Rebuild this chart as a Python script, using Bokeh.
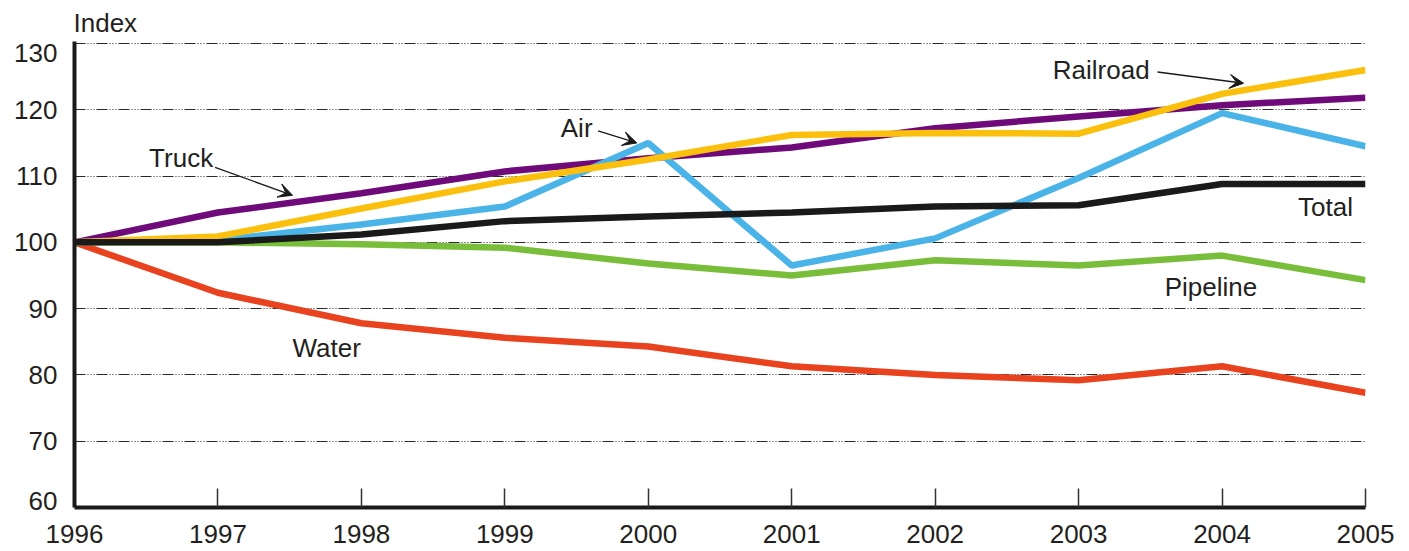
from bokeh.plotting import figure
from bokeh.models import Range1d, FixedTicker, Label, Arrow, VeeHead, Title
from bokeh.embed import file_html
from bokeh.resources import INLINE

years = [1996, 1997, 1998, 1999, 2000, 2001, 2002, 2003, 2004, 2005]
truck = [100, 104.5, 107.4, 110.7, 112.7, 114.3, 117.2, 119.0, 120.7, 121.8]
railroad = [100, 100.9, 105.1, 109.2, 112.5, 116.2, 116.5, 116.4, 122.4, 126.0]
air = [100, 100.3, 102.7, 105.4, 115.0, 96.5, 100.6, 109.7, 119.5, 114.5]
total = [100, 100, 101.2, 103.2, 103.9, 104.5, 105.4, 105.6, 108.8, 108.8]
pipeline = [100, 100, 99.7, 99.2, 96.8, 95.0, 97.3, 96.5, 98.0, 94.3]
water = [100, 92.4, 87.8, 85.6, 84.3, 81.3, 80.0, 79.2, 81.3, 77.3]
y_ticks = [60, 70, 80, 90, 100, 110, 120, 130]
# label positions of the end ticks (they sit inside the range in the reference)
y_label_pos = [61.05, 70, 80, 90, 100, 110, 120, 128.5]

FONT = "Liberation Sans"
TXT = "#231f20"
FS = "26px"

p = figure(width=1409, height=551, output_backend="svg", toolbar_location=None,
           x_range=Range1d(1996, 2005), y_range=Range1d(60, 130.3),
           min_border_left=74, min_border_right=44, min_border_top=41, min_border_bottom=44)
p.outline_line_color = None
p.background_fill_color = "white"
p.border_fill_color = "white"

p.title = Title(text="Index", align="left", text_font=FONT, text_font_size=FS,
                text_font_style="normal", text_color=TXT, standoff=8, offset=-1)

# axes
p.xaxis.ticker = FixedTicker(ticks=years)
p.yaxis.ticker = FixedTicker(ticks=y_label_pos)
p.yaxis.major_label_overrides = {pos: str(t) for pos, t in zip(y_label_pos, y_ticks)}
for ax in (p.xaxis[0], p.yaxis[0]):
    ax.axis_line_width = 4
    ax.axis_line_color = "#1a1a1a"
    ax.minor_tick_line_color = None
    ax.major_label_text_font = FONT
    ax.major_label_text_font_size = FS
    ax.major_label_text_color = TXT
p.yaxis.major_tick_line_color = None
p.yaxis.major_label_standoff = 11
p.xaxis.major_tick_in = 19
p.xaxis.major_tick_out = 0
p.xaxis.major_tick_line_width = 1.5
p.xaxis.major_tick_line_color = "#333333"
p.xaxis.major_label_standoff = 17

# grid
p.xgrid.grid_line_color = None
p.ygrid.ticker = FixedTicker(ticks=[70, 80, 90, 100, 110, 120, 130])
p.ygrid.grid_line_color = "#2a2a2a"
p.ygrid.grid_line_width = 1.2
p.ygrid.grid_line_dash = "11 2 1 2 1 2 1 2"

# series
series = [
    (water, "#e8421e"),
    (pipeline, "#78be3a"),
    (truck, "#6e0a7a"),
    (air, "#4ab4e8"),
    (railroad, "#fbc00e"),
    (total, "#1a1a1a"),
]
for vals, col in series:
    p.line(years, vals, line_color=col, line_width=6.5)

# labels
def lab(x, y, t):
    p.add_layout(Label(x=x, y=y, text=t, text_font=FONT, text_font_size=FS,
                       text_color=TXT, text_baseline="middle", text_align="left"))

lab(1996.52, 112.7, "Truck")
lab(1999.39, 117.2, "Air")
lab(2002.82, 126.0, "Railroad")
lab(2004.53, 105.3, "Total")
lab(2003.60, 93.2, "Pipeline")
lab(1997.52, 84.1, "Water")

def arr(x0, y0, x1, y1):
    p.add_layout(Arrow(x_start=x0, y_start=y0, x_end=x1, y_end=y1,
                       line_color="#1a1a1a", line_width=1.3,
                       end=VeeHead(size=14, fill_color="#1a1a1a", line_color="#1a1a1a", line_width=1)))

arr(1996.98, 111.3, 1997.52, 107.1)
arr(1999.65, 116.8, 1999.92, 115.0)
arr(2003.55, 125.7, 2004.15, 124.0)

open("out.html", "w").write(file_html(p, INLINE))
